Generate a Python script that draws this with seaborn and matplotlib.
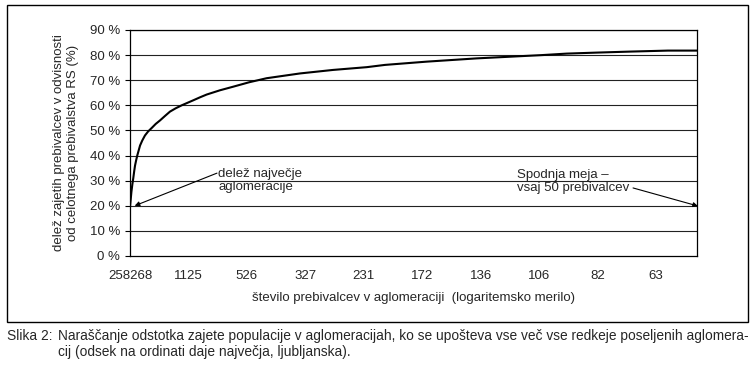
import matplotlib
matplotlib.use("Agg")
import matplotlib.pyplot as plt
import seaborn as sns
import pandas as pd
from matplotlib.patches import Rectangle

# rank of agglomeration (sorted by size, largest first) and cumulative share (%)
rank = [0, 5, 12, 20, 28, 36, 43, 52, 62, 74, 86, 105, 128, 155, 186, 220,
        257, 300, 342, 390, 442, 541, 599, 656, 770, 881, 1020, 1169, 1454,
        1737, 2025, 2181, 2538, 2966, 3393, 3522, 3736, 3992, 4277, 4602, 4850]
share = [19.5, 22.0, 25.5, 28.5, 31.0, 33.8, 36.0, 38.0, 40.0, 42.0, 44.0,
         46.0, 48.0, 49.6, 51.0, 52.6, 54.0, 55.8, 57.5, 58.8, 60.0, 62.0,
         63.2, 64.3, 66.0, 67.4, 69.2, 70.8, 72.7, 74.1, 75.2, 76.1, 77.4,
         78.7, 79.7, 80.0, 80.6, 81.0, 81.4, 81.8, 81.8]

x_ticks = [0, 500, 1000, 1500, 2000, 2500, 3000, 3500, 4000, 4500]
x_tick_labels = ["258268", "1125", "526", "327", "231", "172", "136", "106", "82", "63"]
y_ticks = [0, 10, 20, 30, 40, 50, 60, 70, 80, 90]
y_tick_labels = ["0 %", "10 %", "20 %", "30 %", "40 %", "50 %", "60 %", "70 %", "80 %", "90 %"]

df = pd.DataFrame({"rank": rank, "share": share})

sns.set_style("white")
plt.rcParams["font.family"] = ["Liberation Sans", "DejaVu Sans"]

fig = plt.figure(figsize=(7.55, 3.76), dpi=100)
ax = fig.add_axes([130 / 755, 1 - 256 / 376, 567 / 755, 226 / 376])

for v in y_ticks[1:]:
    ax.axhline(v, color="#222222", lw=0.8, zorder=1)

sns.lineplot(data=df, x="rank", y="share", color="black", lw=1.5, ax=ax, zorder=3)

ax.set_xlim(0, 4850)
ax.set_ylim(0, 90)
ax.set_xticks(x_ticks)
ax.set_xticklabels(x_tick_labels, fontsize=9.5)
ax.set_yticks(y_ticks)
ax.set_yticklabels(y_tick_labels, fontsize=9.5)
ax.tick_params(axis="x", length=0, pad=10)
ax.tick_params(axis="y", length=3.6, width=0.8, pad=3.6, left=True, color="black")
ax.set_xlabel("")
ax.set_ylabel("")
for s in ax.spines.values():
    s.set_color("black")
    s.set_linewidth(0.9)

# annotations
ax.text(753, 30.1, "delež največje\naglomeracije", fontsize=9.5,
        ha="left", va="center", linespacing=1.15)
ax.annotate("", xy=(40, 20), xytext=(744, 33),
            arrowprops=dict(arrowstyle="-|>", lw=0.8, color="black",
                            mutation_scale=7, shrinkA=0, shrinkB=0))
ax.text(3307, 29.7, "Spodnja meja –\nvsaj 50 prebivalcev", fontsize=9.5,
        ha="left", va="center", linespacing=1.15)
ax.annotate("", xy=(4858, 19.9), xytext=(4303, 27.1),
            arrowprops=dict(arrowstyle="-|>", lw=0.8, color="black",
                            mutation_scale=7, shrinkA=0, shrinkB=0),
            annotation_clip=False)

fig.text(66 / 755, 1 - 143 / 376,
         "delež zajetih prebivalcev v odvisnosti\nod celotnega prebivalstva RS (%)",
         rotation=90, ha="center", va="center", fontsize=9.5, linespacing=1.3)
fig.text(413 / 755, 1 - 298 / 376,
         "število prebivalcev v aglomeraciji  (logaritemsko merilo)",
         ha="center", va="center", fontsize=9.5)

# outer frame
fig.patches.append(Rectangle((7 / 755, 1 - 322 / 376), 741 / 755, 317 / 376,
                             transform=fig.transFigure, fill=False,
                             edgecolor="black", lw=1.0))

# caption
fig.text(7 / 755, 1 - 336 / 376, "Slika 2:", ha="left", va="center", fontsize=9.95)
fig.text(58 / 755, 1 - 336 / 376,
         "Naraščanje odstotka zajete populacije v aglomeracijah, ko se upošteva vse več vse redkeje poseljenih aglomera-",
         ha="left", va="center", fontsize=9.95)
fig.text(58 / 755, 1 - 352 / 376,
         "cij (odsek na ordinati daje največja, ljubljanska).",
         ha="left", va="center", fontsize=9.95)

fig.savefig("out.png", dpi=100)
